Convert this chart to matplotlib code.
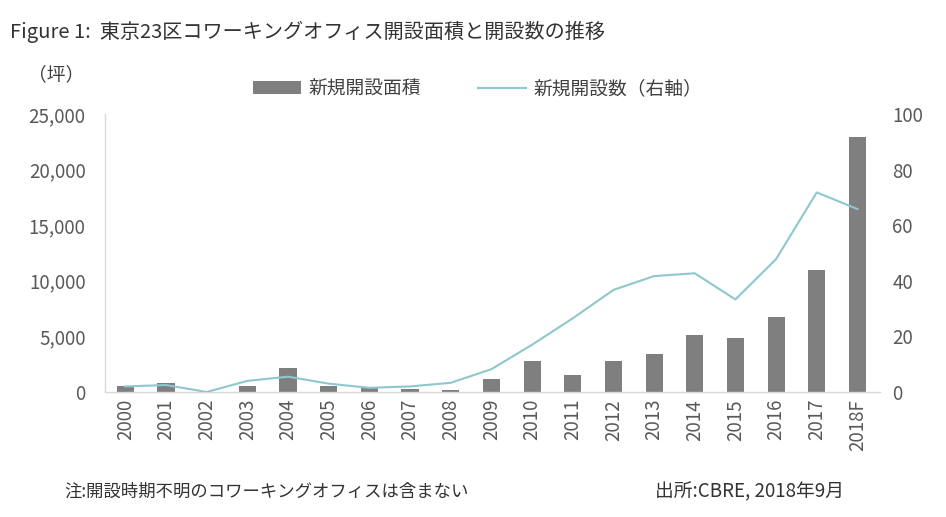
import matplotlib
matplotlib.use("Agg")
import matplotlib.pyplot as plt

plt.rcParams['font.family'] = ['Noto Sans CJK JP', 'DejaVu Sans']

years = ['2000', '2001', '2002', '2003', '2004', '2005', '2006', '2007', '2008', '2009',
         '2010', '2011', '2012', '2013', '2014', '2015', '2016', '2017', '2018F']
area = [500, 800, 0, 500, 2150, 500, 350, 300, 200, 1150,
        2800, 1500, 2800, 3400, 5100, 4900, 6700, 11000, 22900]
count = [2, 2.5, 0, 4, 5.5, 3, 1.5, 2, 3.3, 8.2,
         17, 26.5, 36.7, 41.7, 42.7, 33.3, 47.8, 71.8, 65.8]

left_ticks = [0, 5000, 10000, 15000, 20000, 25000]
right_ticks = [0, 20, 40, 60, 80, 100]

bar_color = '#7f7f7f'
line_color = '#8ec7cc'
txt = '#404040'
tick_c = '#595959'

fig = plt.figure(figsize=(9.46, 5.17), dpi=100)
ax = fig.add_axes([0.111, 0.2418, 0.819, 0.5377])
x = list(range(len(years)))
b = ax.bar(x, area, width=0.42, color=bar_color, label='新規開設面積', zorder=2)
ax.set_ylim(0, 25000)
ax.set_xlim(-0.5, 18.55)
ax.set_yticks(left_ticks)
ax.set_yticklabels([f'{v:,}' for v in left_ticks])
ax.set_xticks(x)
ax.set_xticklabels(years, rotation=90)
ax.tick_params(axis='both', length=0, colors=tick_c, labelsize=13.5)
ax.tick_params(axis='y', pad=14)
ax.tick_params(axis='x', pad=5)
for s in ['top', 'right']:
    ax.spines[s].set_visible(False)
for s in ['left', 'bottom']:
    ax.spines[s].set_color('#d9d9d9')
    ax.spines[s].set_linewidth(1)

ax2 = ax.twinx()
l, = ax2.plot(x, count, color=line_color, lw=1.5, label='新規開設数（右軸）', zorder=3)
ax2.set_ylim(0, 100)
ax2.set_yticks(right_ticks)
ax2.tick_params(axis='y', length=0, colors=tick_c, labelsize=13.5, pad=9)
for s in ['top', 'right', 'left', 'bottom']:
    ax2.spines[s].set_visible(False)

fig.legend([b, l], ['新規開設面積', '新規開設数（右軸）'], loc='center', ncol=2,
           bbox_to_anchor=(0.505, 0.828), frameon=False, fontsize=13.5,
           handlelength=2.6, handletextpad=0.4, columnspacing=3.0, labelcolor=txt)

fig.text(0.011, 0.938, 'Figure 1:  東京23区コワーキングオフィス開設面積と開設数の推移', fontsize=14.5,
         color='#333333', va='center')
fig.text(0.030, 0.855, '（坪）', fontsize=13.5, color=txt, va='center')
fig.text(0.068, 0.048, '注:開設時期不明のコワーキングオフィスは含まない', fontsize=12.5, color='#333333', va='center')
fig.text(0.692, 0.048, '出所:CBRE, 2018年9月', fontsize=13.5, color='#333333', va='center')

fig.savefig('out.png', dpi=100, facecolor='white')
